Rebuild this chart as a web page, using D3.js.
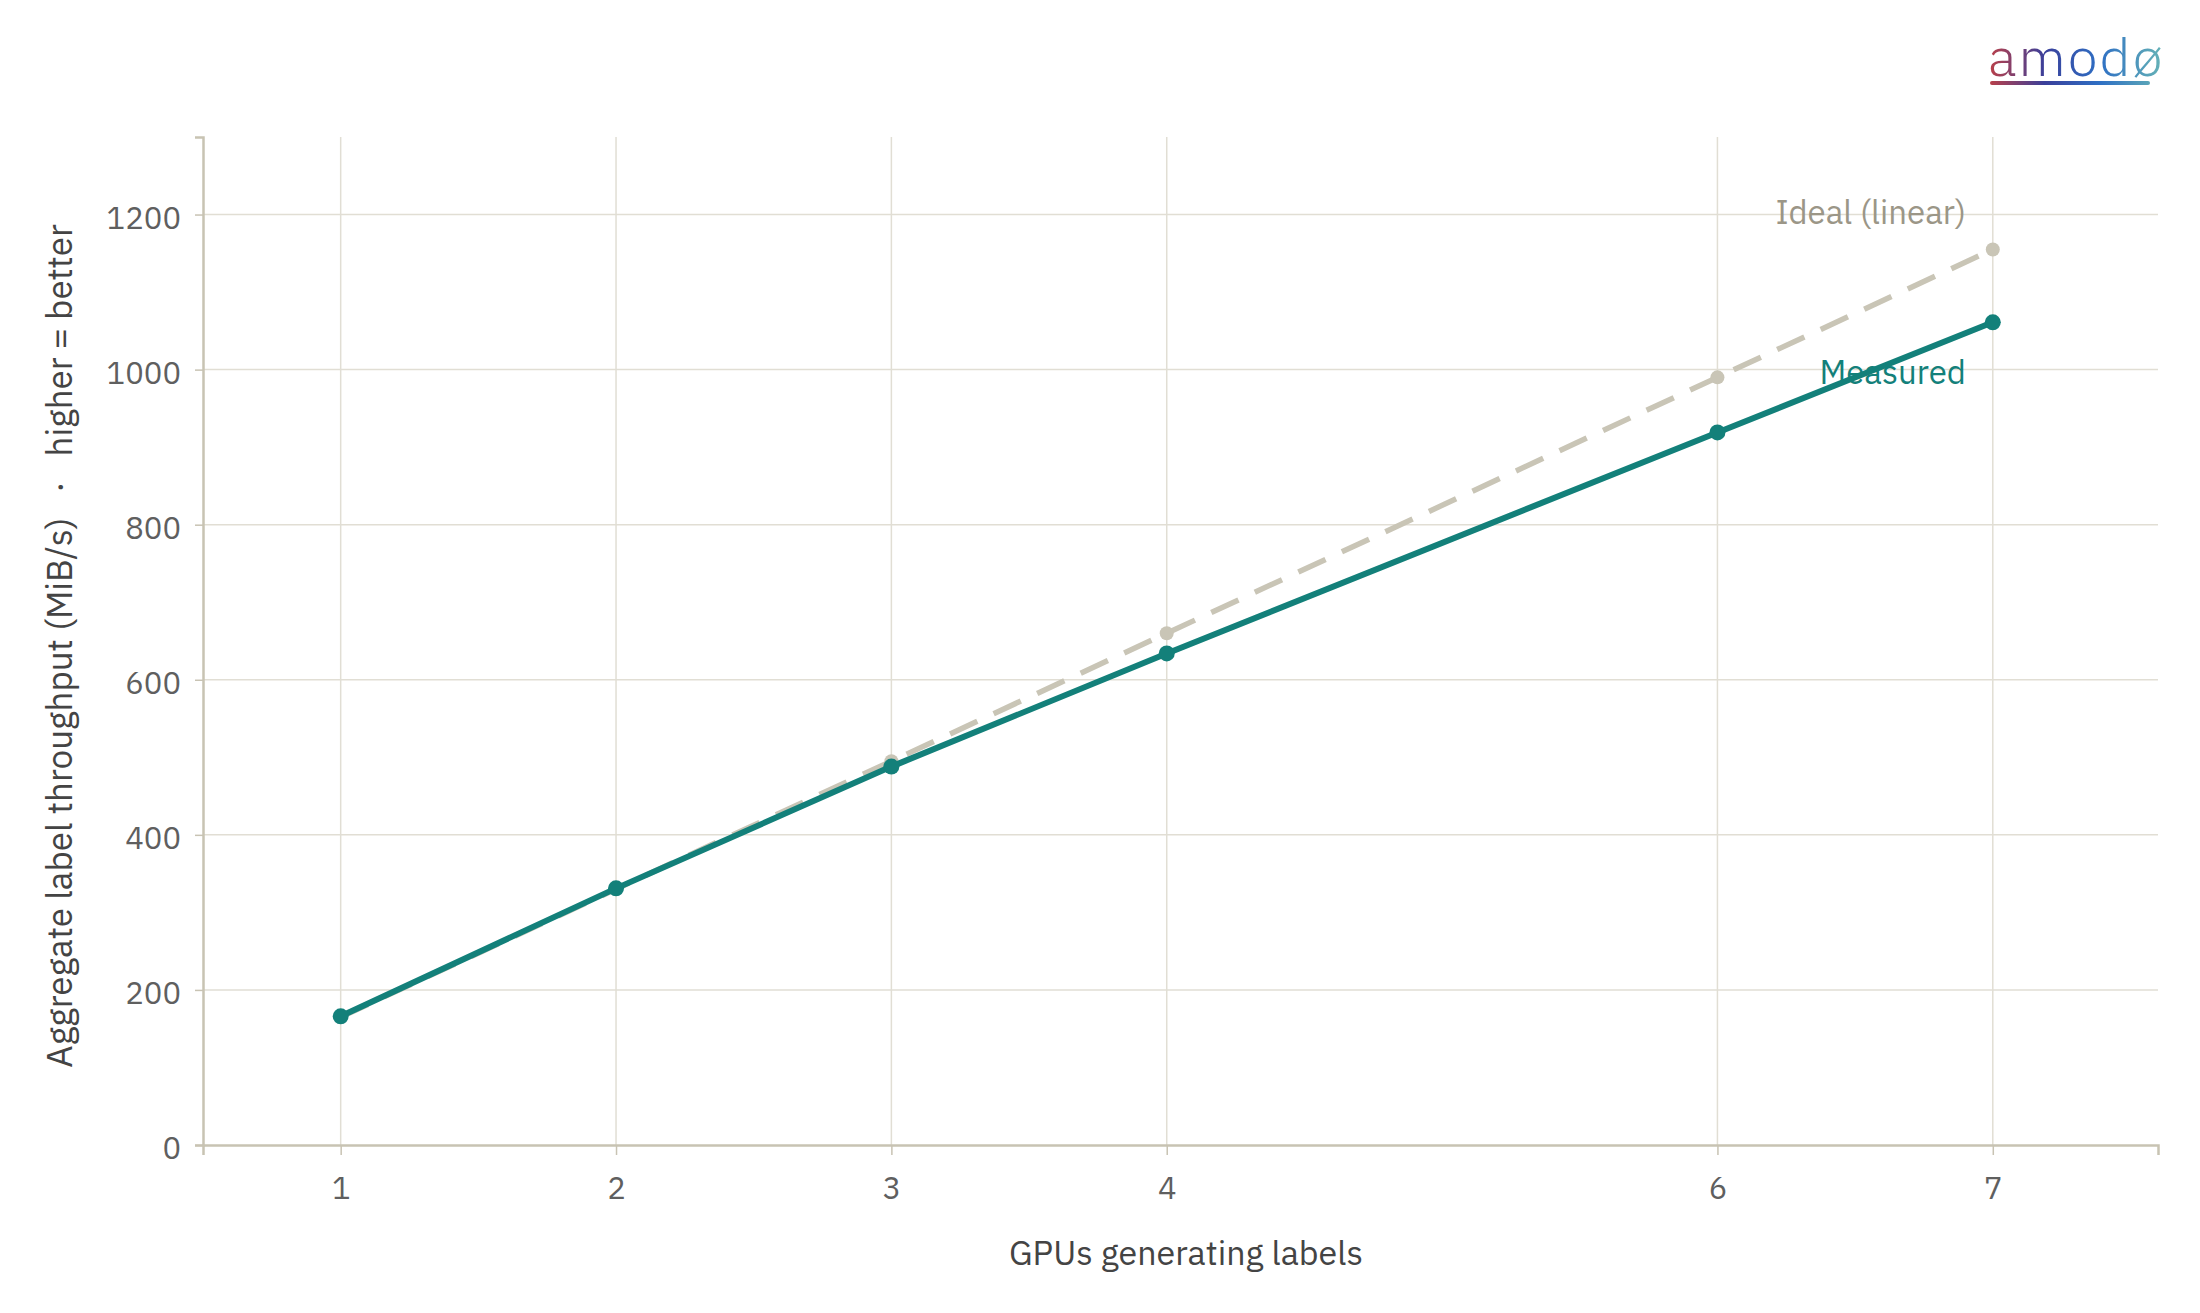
<!DOCTYPE html>
<html><head><meta charset="utf-8">
<script src="https://cdn.jsdelivr.net/npm/d3@7"></script>
<style>body{margin:0;background:#fff}svg{display:block}text{font-family:"IBM Plex Sans","Noto Sans",sans-serif}</style>
</head><body><svg id="c" width="2200" height="1313"></svg>
<script>
const gpus = [1, 2, 3, 4, 6, 7];
const measured = [166, 331, 488, 634, 919, 1061];
const ideal = [165, 330, 495, 660, 990, 1155];
const yTicks = [0, 200, 400, 600, 800, 1000, 1200];
const xTicks = [1, 2, 3, 4, 6, 7];

const svg = d3.select("#c");
const L = 203, R = 2158, T = 137, B = 1145;
const x = d3.scaleLinear().domain([0.5, 7.6]).range([L, R]);
const y = d3.scaleLinear().domain([0, 1300]).range([B, T]);
const teal = "#13807a", idealC = "#c9c5b6", grid = "#e1ded4", axisC = "#c8c3b3";

svg.append("g").selectAll("line").data(yTicks.slice(1)).join("line")
  .attr("x1", L).attr("x2", R).attr("y1", d => y(d)).attr("y2", d => y(d))
  .attr("stroke", grid).attr("stroke-width", 1.5);
svg.append("g").selectAll("line").data(xTicks).join("line")
  .attr("x1", d => x(d)).attr("x2", d => x(d)).attr("y1", T).attr("y2", B)
  .attr("stroke", grid).attr("stroke-width", 1.5);

const xa = svg.append("g").attr("transform", `translate(0,${B})`)
  .call(d3.axisBottom(x).tickValues(xTicks).tickSize(10).tickPadding(22).tickFormat(d3.format("d")));
const ya = svg.append("g").attr("transform", `translate(${L},0)`)
  .call(d3.axisLeft(y).tickValues(yTicks).tickSize(8).tickPadding(14).tickFormat(d3.format("d")));
[xa, ya].forEach(a => {
  a.select(".domain").attr("stroke", axisC).attr("stroke-width", 2.5);
  a.selectAll(".tick line").attr("stroke", axisC).attr("stroke-width", 1.5);
  a.selectAll(".tick text").attr("fill", "#5f5f5f").attr("font-size", 31);
});
ya.selectAll(".tick text").attr("dy", "0.45em");

const line = d3.line().x((d, i) => x(gpus[i])).y(d => y(d));
svg.append("path").datum(ideal).attr("d", line).attr("fill", "none")
  .attr("stroke", idealC).attr("stroke-width", 5.5).attr("stroke-dasharray", "30,18");
svg.append("g").selectAll("circle").data(ideal).join("circle")
  .attr("cx", (d, i) => x(gpus[i])).attr("cy", d => y(d)).attr("r", 7).attr("fill", idealC);
svg.append("path").datum(measured).attr("d", line).attr("fill", "none")
  .attr("stroke", teal).attr("stroke-width", 6);
svg.append("g").selectAll("circle").data(measured).join("circle")
  .attr("cx", (d, i) => x(gpus[i])).attr("cy", d => y(d)).attr("r", 8).attr("fill", teal);

svg.append("text").attr("x", 1966).attr("y", 224).attr("text-anchor", "end")
  .attr("font-size", 33).attr("fill", "#9b9687").text("Ideal (linear)");
svg.append("text").attr("x", 1966).attr("y", 384).attr("text-anchor", "end")
  .attr("font-size", 33).attr("fill", teal).text("Measured");

svg.append("text").attr("x", 1186).attr("y", 1265).attr("text-anchor", "middle")
  .attr("font-size", 34).attr("fill", "#444").text("GPUs generating labels");
svg.append("text").attr("transform", "translate(72,646) rotate(-90)").attr("text-anchor", "middle")
  .attr("font-size", 35).attr("fill", "#444").attr("xml:space", "preserve")
  .text("Aggregate label throughput (MiB/s)   ·   higher = better");

const defs = svg.append("defs");
const g = defs.append("linearGradient").attr("id", "lg").attr("gradientUnits", "userSpaceOnUse")
  .attr("x1", 1990).attr("x2", 2172).attr("y1", 0).attr("y2", 0);
[["0%", "#b8404a"], ["30%", "#3a3f9a"], ["60%", "#2e6fc4"], ["100%", "#6dbcb4"]]
  .forEach(s => g.append("stop").attr("offset", s[0]).attr("stop-color", s[1]));
svg.append("text").attr("x", 1988).attr("y", 76).attr("font-size", 54).attr("font-weight", 300)
  .attr("letter-spacing", 2).attr("fill", "url(#lg)").text("amodø");
svg.append("line").attr("x1", 1992).attr("x2", 2148).attr("y1", 83).attr("y2", 83)
  .attr("stroke", "url(#lg)").attr("stroke-width", 4).attr("stroke-linecap", "round");
</script></body></html>
